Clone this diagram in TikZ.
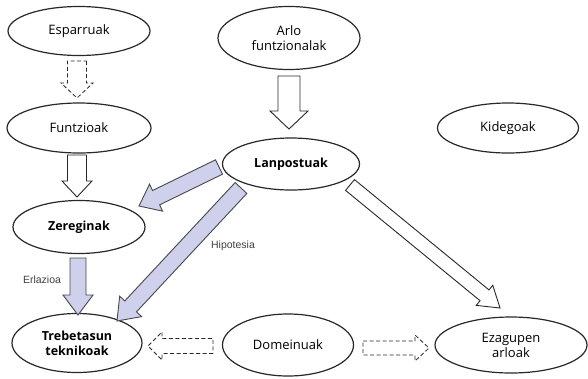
\documentclass[tikz,border=0pt]{standalone}
\usepackage{fontspec}
\setmainfont{Open Sans}
\newfontfamily\labfont{Liberation Sans}
\usetikzlibrary{calc,shapes.geometric}
\definecolor{lav}{RGB}{206,208,236}
\definecolor{edge}{RGB}{40,40,40}
\tikzset{
  oval/.style={ellipse, draw=edge, line width=1.2pt, fill=white, inner sep=0pt,
    align=center, font=\fontsize{13}{15}\selectfont},
  boldoval/.style={oval, font=\fontsize{12.5}{15}\selectfont\bfseries},
  whitearr/.style={draw=edge, line width=0.9pt, fill=white, line join=miter},
  lavarr/.style={draw=edge!85, line width=0.9pt, fill=lav, line join=miter},
  dasharr/.style={draw=edge, line width=0.8pt, dash pattern=on 4pt off 2.5pt, fill=white},
  lab/.style={font=\labfont\fontsize{10.5}{12}\selectfont, text=black!75}
}
\newcommand\blockarr[6]{%
  \coordinate (hb) at ($(#3)!#6!(#2)$);
  \draw[#1] ($(#2)!#4!90:(#3)$) -- ($(hb)!#4!90:(#3)$) -- ($(hb)!#5!90:(#3)$)
    -- (#3) -- ($(hb)!#5!-90:(#3)$) -- ($(hb)!#4!-90:(#3)$) -- ($(#2)!#4!-90:(#3)$) -- cycle;
}
\begin{document}
\begin{tikzpicture}[x=1pt,y=-1pt]
\useasboundingbox[fill=white] (0,0) rectangle (588,378);
\node[oval, minimum width=142pt, minimum height=49pt] (esp) at (79,31) {Esparruak};
\node[oval, minimum width=142pt, minimum height=63pt] (arlo) at (289,38) {Arlo\\funtzionalak};
\node[oval, minimum width=144pt, minimum height=50pt] (fun) at (79,128) {Funtzioak};
\node[oval, minimum width=141pt, minimum height=50pt] (kid) at (508,128) {Kidegoak};
\node[boldoval, minimum width=137pt, minimum height=52pt] (lan) at (291,164) {Lanpostuak};
\node[boldoval, minimum width=132pt, minimum height=53pt] (zer) at (79,227) {Zereginak};
\node[boldoval, minimum width=130pt, minimum height=59pt] (treb) at (77,343) {Trebetasun\\teknikoak};
\node[oval, minimum width=131pt, minimum height=62pt] (dom) at (288,345) {Domeinuak};
\node[oval, minimum width=152pt, minimum height=56pt] (eza) at (511,345) {Ezagupen\\arloak};

% connector end points
\coordinate (espO) at (77,61);  \coordinate (funI) at (77,98);
\coordinate (arloO) at (289,76); \coordinate (lanI) at (289,129);
\coordinate (funO) at (77,155); \coordinate (zerI) at (77,197);
\coordinate (lanZ) at (219,167); \coordinate (zerR) at (139,206);
\coordinate (lanT) at (241,188); \coordinate (trebR) at (117,321);
\coordinate (zerO) at (78,258); \coordinate (trebI) at (78,315);
\coordinate (lanE) at (350,185); \coordinate (ezaI) at (500,308);
\coordinate (domL) at (213,346); \coordinate (trebE) at (148,346);
\coordinate (domR) at (363,348); \coordinate (ezaW) at (429,348);

\blockarr{dasharr}{espO}{funI}{9.5pt}{16pt}{15pt}
\blockarr{whitearr}{arloO}{lanI}{11pt}{19pt}{18pt}
\blockarr{whitearr}{funO}{zerI}{9.5pt}{15pt}{16pt}
\blockarr{lavarr}{lanZ}{zerR}{8pt}{15pt}{19pt}
\blockarr{lavarr}{lanT}{trebR}{8pt}{15pt}{20pt}
\blockarr{lavarr}{zerO}{trebI}{8pt}{15pt}{20pt}
\blockarr{whitearr}{lanE}{ezaI}{7pt}{13pt}{20pt}
\blockarr{dasharr}{domL}{trebE}{7.5pt}{14pt}{14pt}
\blockarr{dasharr}{domR}{ezaW}{7pt}{13pt}{14pt}

\node[lab] (hip) at (233,246) {Hipotesia};
\node[lab] (erl) at (42,280) {Erlazioa};
\end{tikzpicture}
\end{document}
